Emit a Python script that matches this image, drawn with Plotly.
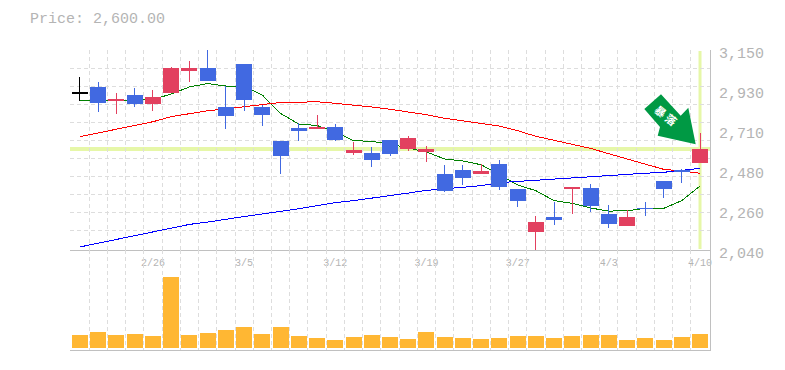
import plotly.graph_objects as go

dates = ["2/26", "3/5", "3/12", "3/19", "3/27", "4/3", "4/10"]
date_positions = [4, 9, 14, 19, 24, 29, 34]
y_tick_values = [2040, 2262, 2484, 2706, 2928, 3150]
y_tick_labels = ["2,040", "2,260", "2,480", "2,710", "2,930", "3,150"]
y_grid_values = [3050, 2950, 2850, 2750, 2650, 2550, 2450, 2350, 2250, 2150, 3150]
last_price = 2600

opens = [2912, 2945, 2867, 2900, 2850, 2911, 3033, 3050, 2834, 3072, 2834, 2645, 2717, 2712, 2723, 2578, 2578, 2650,
         2600, 2589, 2462, 2484, 2462, 2517, 2379, 2140, 2223, 2384, 2384, 2240, 2173, 2273, 2423, 2484, 2523]
highs = [3000, 2972, 2911, 2939, 2928, 3056, 3089, 3150, 2950, 3072, 2845, 2645, 2745, 2789, 2739, 2639, 2612, 2650,
         2673, 2617, 2512, 2512, 2517, 2540, 2379, 2229, 2306, 2390, 2406, 2290, 2262, 2306, 2423, 2490, 2689]
lows = [2867, 2806, 2795, 2834, 2811, 2911, 2972, 2978, 2712, 2811, 2728, 2462, 2645, 2712, 2645, 2567, 2501, 2562,
        2589, 2528, 2362, 2401, 2462, 2373, 2279, 2040, 2179, 2240, 2251, 2162, 2173, 2229, 2329, 2412, 2523]
closes = [2908, 2856, 2878, 2850, 2889, 3050, 3050, 2978, 2784, 2872, 2789, 2562, 2700, 2723, 2650, 2595, 2540, 2573,
          2662, 2600, 2367, 2440, 2478, 2390, 2312, 2195, 2207, 2390, 2284, 2184, 2223, 2268, 2379, 2473, 2600]
ma_short = [2867, 2870, 2872, 2875, 2875, 2906, 2945, 2964, 2950, 2947, 2900, 2798, 2739, 2731, 2695, 2647, 2643, 2628,
            2606, 2584, 2545, 2534, 2513, 2456, 2401, 2369, 2314, 2299, 2273, 2256, 2258, 2271, 2271, 2314, 2395]
ma_mid = [2669, 2689, 2710, 2732, 2752, 2780, 2795, 2813, 2823, 2835, 2850, 2859, 2860, 2863, 2854, 2845, 2834, 2821,
          2806, 2791, 2771, 2758, 2741, 2728, 2702, 2671, 2649, 2627, 2604, 2574, 2545, 2517, 2488, 2478, 2466]
ma_long = [2057, 2078, 2098, 2119, 2140, 2162, 2182, 2195, 2212, 2226, 2240, 2253, 2269, 2286, 2303, 2314, 2327, 2344,
           2356, 2371, 2380, 2388, 2397, 2414, 2421, 2427, 2434, 2440, 2447, 2456, 2460, 2466, 2471, 2480, 2493]
volumes = [130, 160, 130, 140, 120, 710, 130, 150, 180, 210, 140, 210, 120, 100, 80, 110, 130, 110,
           90, 160, 110, 100, 90, 100, 120, 120, 100, 120, 130, 130, 80, 100, 80, 110, 140]

x = list(range(len(closes)))
W, H, L, R, T, B = 785, 370, 70, 710, 50, 350
GRAY = "#b4b4b4"
GRID = "#dddddd"
AXIS = "#c0c0c0"
FONT = "Liberation Mono"
BLUE = "#4169e1"
RED = "#e2405f"
BLACK = "#000000"
DASH = "4px,3px"


def px(v):
    return (v - L) / (R - L)


def py(v):
    return (B - v) / (B - T)


def candle_color(i):
    if i == 0:
        return BLACK
    return RED if closes[i] >= opens[i] else BLUE


colors = [candle_color(i) for i in x]

fig = go.Figure()
for series, color in [(ma_short, "#008000"), (ma_mid, "#ff0000"), (ma_long, "#0000ff")]:
    fig.add_trace(go.Scatter(x=x, y=series, mode="lines", line=dict(color=color, width=1),
                             xaxis="x", yaxis="y", showlegend=False, hoverinfo="skip"))

fig.add_trace(go.Bar(x=x, y=[abs(c - o) for o, c in zip(opens, closes)], base=[min(o, c) for o, c in zip(opens, closes)],
                     width=0.877, marker=dict(color=colors, line=dict(width=0)),
                     xaxis="x", yaxis="y3", showlegend=False, hoverinfo="skip"))

for color in (BLUE, RED, BLACK):
    wx, wy = [], []
    for i in x:
        if colors[i] == color:
            wx += [i, i, None]
            wy += [lows[i], highs[i], None]
    fig.add_trace(go.Scatter(x=wx, y=wy, mode="lines", line=dict(color=color, width=1),
                             xaxis="x", yaxis="y3", showlegend=False, hoverinfo="skip", cliponaxis=True))

fig.add_trace(go.Bar(x=x, y=volumes, marker=dict(color="#ffb733", line=dict(width=0)), width=0.877,
                     xaxis="x2", yaxis="y2", showlegend=False, hoverinfo="skip"))

x_range = [-0.548, 34.548]
y_range = [2040, 3150]
half_steps = [i - 0.5 for i in x]

minor_x = dict(tickvals=half_steps, showgrid=True, gridcolor=GRID, griddash=DASH, gridwidth=1, ticklen=0)

fig.update_layout(
    width=W, height=H,
    margin=dict(l=L, r=W - R, t=T, b=H - B, pad=0, autoexpand=False),
    paper_bgcolor="white", plot_bgcolor="white",
    bargap=0,
    font=dict(family=FONT, color=GRAY),
    xaxis=dict(domain=[0, 1], range=x_range, anchor="y", tickmode="array", tickvals=date_positions, ticktext=dates,
               showgrid=False, zeroline=False, showline=True, linecolor=AXIS, linewidth=1,
               ticks="outside", ticklen=3, tickcolor="rgba(0,0,0,0)", tickfont=dict(size=10, color=GRAY, family=FONT),
               minor=minor_x, tickangle=0, automargin=False),
    xaxis2=dict(domain=[0, 1], range=x_range, anchor="y2", matches="x", showticklabels=False, tickmode="array",
                tickvals=[], showgrid=False, zeroline=False, showline=True, linecolor=AXIS, linewidth=1,
                minor=minor_x, automargin=False),
    yaxis=dict(domain=[1 / 3, 1], range=y_range, anchor="x", side="right", tickmode="array",
               tickvals=y_tick_values, ticktext=y_tick_labels, showgrid=False, zeroline=False,
               showline=True, linecolor=AXIS, linewidth=1, ticks="outside", ticklen=5,
               tickcolor="rgba(0,0,0,0)", tickfont=dict(size=15, color=GRAY, family=FONT),
               ticklabelshift=3, automargin=False,
               minor=dict(tickvals=y_grid_values, showgrid=True, gridcolor=GRID, griddash=DASH, gridwidth=1,
                          ticklen=0)),
    yaxis2=dict(domain=[0, 1 / 3], range=[-20, 980], anchor="x2", side="right", showticklabels=False,
                showgrid=False, zeroline=False, showline=True, linecolor=AXIS, linewidth=1, ticks="",
                automargin=False),
    yaxis3=dict(range=y_range, overlaying="y", side="right", visible=False, showgrid=False, zeroline=False,
                automargin=False),
    shapes=[
        dict(type="line", xref="paper", yref="y", x0=0, x1=1, y0=last_price, y1=last_price,
             line=dict(color="#e6f7a8", width=4), layer="below"),
        dict(type="line", xref="x", yref="y domain", x0=x[-1], x1=x[-1], y0=0.005, y1=0.995,
             line=dict(color="#e6f7a8", width=3), layer="below"),
        dict(type="path", xref="paper", yref="paper", fillcolor="#009944", line=dict(width=0), layer="above",
             path="M {} {} L {} {} L {} {} L {} {} L {} {} L {} {} L {} {} Z".format(
                 px(661), py(94.3), px(644.3), py(109), px(660), py(127), px(657.7), py(135.7),
                 px(695.7), py(144.3), px(688.3), py(107.7), px(680.7), py(115.7))),
    ],
    annotations=[
        dict(text="Price: 2,600.00", xref="paper", yref="paper", x=px(27.5), y=py(19.5), xanchor="left", yanchor="middle",
             showarrow=False, font=dict(size=15, color=GRAY, family=FONT)),
        dict(text="<b>暴 落</b>", xref="paper", yref="paper", x=px(666), y=py(115), xanchor="center", yanchor="middle",
             showarrow=False, textangle=38, font=dict(size=11, color="white", family="Noto Sans CJK JP")),
    ],
)

post = ("document.body.style.margin='0';"
        "document.querySelectorAll('.scatterlayer path')"
        ".forEach(function(p){p.style.shapeRendering='crispEdges';});")
fig.write_html("out.html", post_script=post, config=dict(displayModeBar=False))
